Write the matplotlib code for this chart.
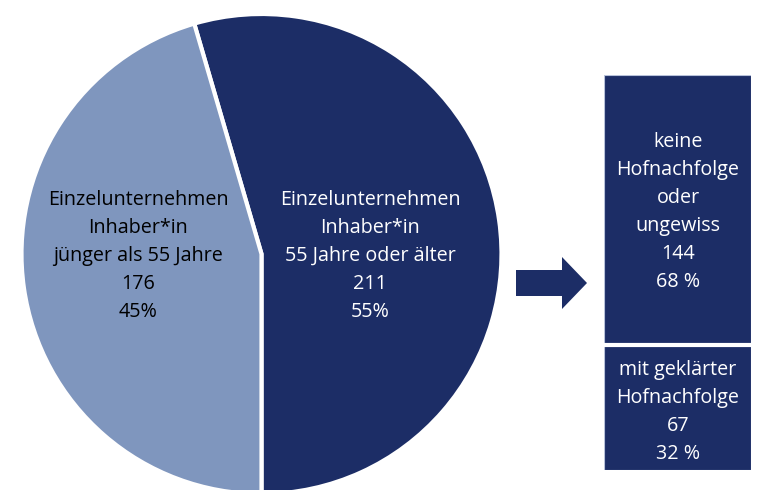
import matplotlib
matplotlib.use("Agg")
import matplotlib.pyplot as plt
from matplotlib.patches import Polygon

# Data
pie_labels = ["Einzelunternehmen\nInhaber*in\n55 Jahre oder älter",
              "Einzelunternehmen\nInhaber*in\njünger als 55 Jahre"]
pie_values = [211, 176]
pie_pcts = ["55%", "45%"]

bar_labels = ["mit geklärter\nHofnachfolge", "keine\nHofnachfolge\noder\nungewiss"]
bar_values = [67, 144]
bar_pcts = ["32 %", "68 %"]

DARK = "#1c2d66"
LIGHT = "#7f96be"
FONT = ["Open Sans", "DejaVu Sans"]
FS = 14.2
LH = 28  # line height in px

W, H = 759, 490
fig = plt.figure(figsize=(W / 100, H / 100), dpi=100)

# Stacked bar (drawn first so the main overlay axes is on top)
bx = fig.add_axes([604 / W, 20 / H, 147 / W, 395 / H])
bx.set_xlim(-0.5, 0.5)
bx.set_ylim(0, sum(bar_values))
bx.axis("off")
bottom = 0
for v in bar_values:
    bx.bar(0, v, width=1.0, bottom=bottom, color=DARK, edgecolor="#b8c2da", linewidth=0.8)
    bottom += v
bx.axhline(bar_values[0], color="white", linewidth=3)

ax = fig.add_axes([0, 0, 1, 1])
ax.patch.set_alpha(0)

# Pie
cx, cy, r = 261.5, H - 254, 240
ax.pie(pie_values, colors=[DARK, LIGHT], startangle=-90, counterclock=True,
       center=(cx, cy), radius=r, frame=True,
       wedgeprops=dict(edgecolor="white", linewidth=3))
ax.set_xlim(0, W)
ax.set_ylim(0, H)
ax.set_aspect("auto")
ax.axis("off")


def draw_lines(x, y_top, lines, color):
    for i, line in enumerate(lines):
        ax.text(x, H - (y_top + i * LH), line, ha="center", va="center",
                fontsize=FS, color=color, family=FONT)


# Pie labels
draw_lines(370, 200, pie_labels[0].split("\n") + [str(pie_values[0]), pie_pcts[0]], "white")
draw_lines(138, 200, pie_labels[1].split("\n") + [str(pie_values[1]), pie_pcts[1]], "black")

# Arrow
arrow_px = [(516, 270), (562, 270), (562, 257), (587, 283), (562, 309), (562, 296), (516, 296)]
ax.add_patch(Polygon([(x, H - y) for x, y in arrow_px], closed=True,
                     facecolor=DARK, edgecolor="none"))

# Bar labels
draw_lines(678, 370, bar_labels[0].split("\n") + [str(bar_values[0]), bar_pcts[0]], "white")
draw_lines(678, 142, bar_labels[1].split("\n") + [str(bar_values[1]), bar_pcts[1]], "white")

fig.savefig("out.png", dpi=100, facecolor="white")
